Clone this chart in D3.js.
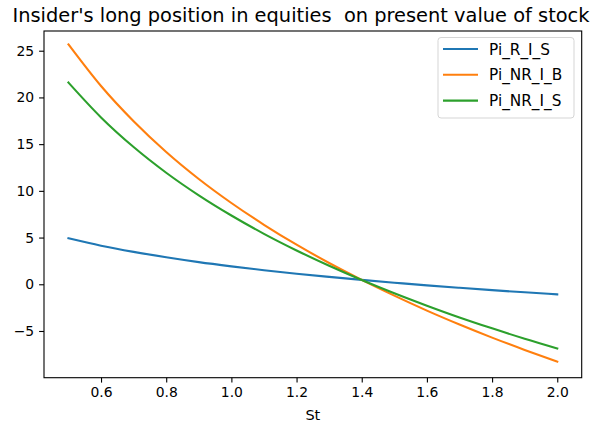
<!DOCTYPE html>
<html><head><meta charset="utf-8">
<script src="https://cdn.jsdelivr.net/npm/d3@7"></script>
<style>
body{margin:0;background:#fff;}
text{font-family:"DejaVu Sans",sans-serif;}
</style></head>
<body><svg id="c" width="592" height="431"></svg>
<script>
const stValues = [0.5,0.6,0.7,0.8,0.9,1.0,1.1,1.2,1.3,1.4,1.5,1.6,1.7,1.8,1.9,2.0];
const piRIS   = [4.92,4.13,3.47,2.89,2.37,1.92,1.51,1.13,0.79,0.47,0.17,-0.12,-0.38,-0.63,-0.86,-1.08];
const piNRIB  = [25.68,21.22,17.45,14.16,11.27,8.70,6.37,4.24,2.28,0.47,-1.22,-2.82,-4.31,-5.71,-7.03,-8.28];
const piNRIS  = [21.59,17.86,14.69,11.94,9.52,7.36,5.40,3.62,1.98,0.46,-0.96,-2.29,-3.55,-4.72,-5.83,-6.87];
const seriesNames = ["Pi_R_I_S","Pi_NR_I_B","Pi_NR_I_S"];
const seriesColors = ["#1f77b4","#ff7f0e","#2ca02c"];
const xTicks = [0.6,0.8,1.0,1.2,1.4,1.6,1.8,2.0];
const yTicks = [-5,0,5,10,15,20,25];
const titleText = "Insider's long position in equities  on present value of stock";
const xLabel = "St";

const svg = d3.select("#c");
const L=44, R=581.7, T=31, B=377.7;
const x = d3.scaleLinear().domain([0.425,2.075]).range([L,R]);
const y = d3.scaleLinear().domain([-10.0,27.11]).range([B,T]);

const allSeries = [piRIS,piNRIB,piNRIS];
const line = d3.line().x((d,i)=>x(stValues[i])).y(d=>y(d)).curve(d3.curveMonotoneX);
allSeries.forEach((s,k)=>{
  svg.append("path").attr("d",line(s)).attr("fill","none")
    .attr("stroke",seriesColors[k]).attr("stroke-width",2.1).attr("stroke-linecap","square");
});

// axes
const xAxis = d3.axisBottom(x).tickValues(xTicks).tickFormat(d3.format(".1f")).tickSizeOuter(0).tickSize(4.9).tickPadding(4.9);
const gx = svg.append("g").attr("transform",`translate(0,${B})`).call(xAxis);
const yAxis = d3.axisLeft(y).tickValues(yTicks).tickFormat(d=>d<0?"\u2212"+Math.abs(d):d).tickSizeOuter(0).tickSize(4.9).tickPadding(4.9);
const gy = svg.append("g").attr("transform",`translate(${L},0)`).call(yAxis);
[gx,gy].forEach(g=>{
  g.select(".domain").remove();
  g.selectAll(".tick line").attr("stroke","#000").attr("stroke-width",1.1);
  g.selectAll(".tick text").attr("fill","#000").style("font-size","13.9px").style("font-family","DejaVu Sans");
});
// frame
svg.append("rect").attr("x",L).attr("y",T).attr("width",R-L).attr("height",B-T)
  .attr("fill","none").attr("stroke","#000").attr("stroke-width",1.1);

// title & label
svg.append("text").attr("x",301).attr("y",22).attr("text-anchor","middle")
  .style("font-size","19.4px").style("white-space","pre").attr("fill","#000").text(titleText);
svg.append("text").attr("x",(L+R)/2).attr("y",420).attr("text-anchor","middle")
  .style("font-size","14.5px").attr("fill","#000").text(xLabel);

// legend
const lg = svg.append("g");
lg.append("rect").attr("x",438).attr("y",37.5).attr("width",136).attr("height",80.5)
  .attr("rx",3).attr("fill","#fff").attr("fill-opacity",0.8).attr("stroke","#d5d5d5").attr("stroke-width",1);
seriesNames.forEach((n,k)=>{
  const yy = 49 + k*25.8;
  lg.append("line").attr("x1",443).attr("x2",478).attr("y1",yy).attr("y2",yy)
    .attr("stroke",seriesColors[k]).attr("stroke-width",2.1);
  lg.append("text").attr("x",489).attr("y",yy+5.5).style("font-size","15.3px").attr("fill","#000").text(n);
});
</script></body></html>
